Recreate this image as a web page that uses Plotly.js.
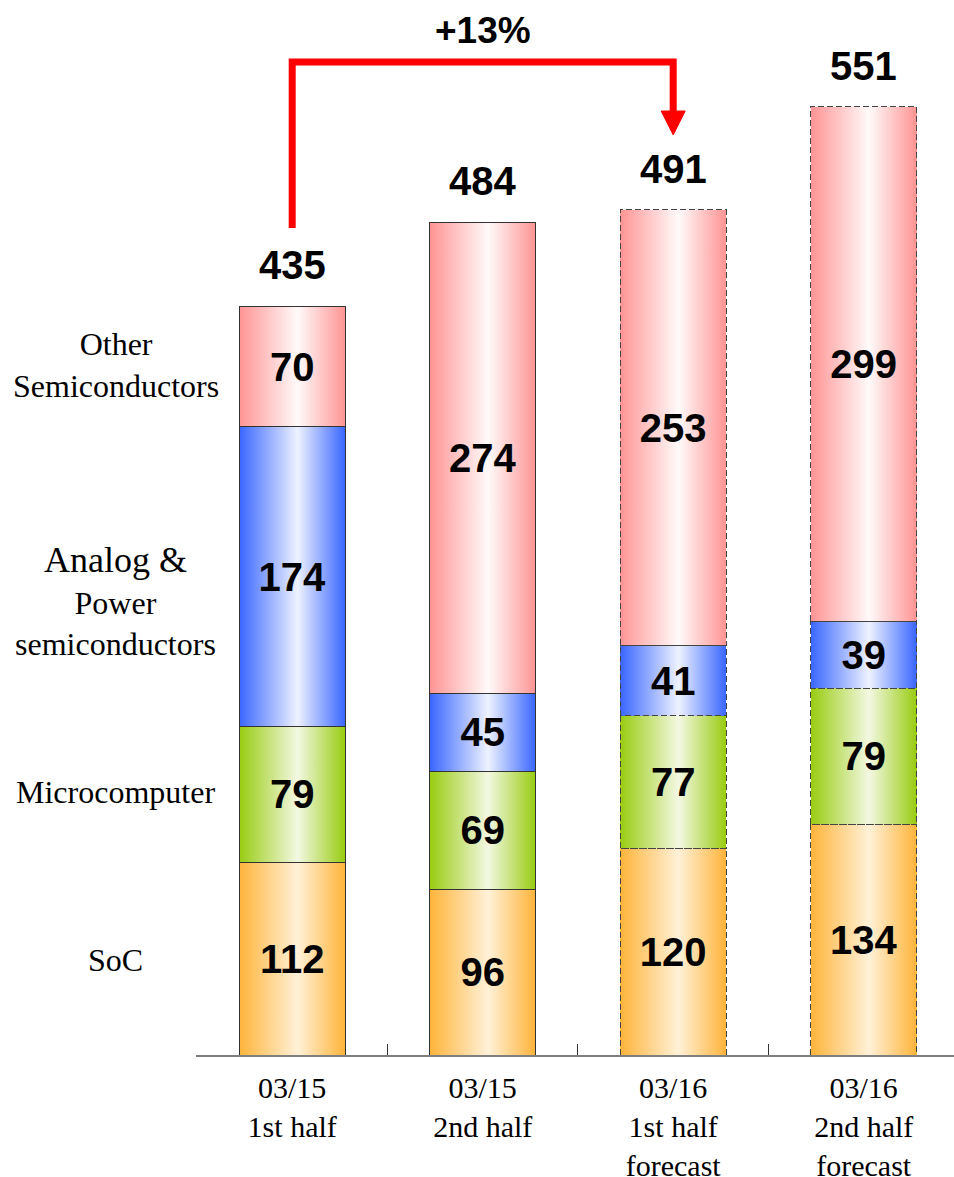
<!DOCTYPE html>
<html>
<head>
<meta charset="utf-8">
<script src="https://cdn.plot.ly/plotly-3.0.1.min.js"></script>
<style>
  html, body { margin: 0; padding: 0; background: #ffffff; }
  #chart { width: 954px; height: 1177px; }
</style>
</head>
<body>
<div id="chart"></div>
<script>
// Half-year periods on the x axis
const periods = ['03/15<br>1st half', '03/15<br>2nd half', '03/16<br>1st half<br>forecast', '03/16<br>2nd half<br>forecast'];
const isForecast = [false, false, true, true];

// Product segments, bottom to top
const segmentNames = ['SoC', 'Microcomputer', 'Analog &amp; Power semiconductors', 'Other Semiconductors'];
const soc = [112, 96, 120, 134];
const microcomputer = [79, 69, 77, 79];
const analogPower = [174, 45, 41, 39];
const otherSemis = [70, 274, 253, 299];

const growthText = '+13%';

const seriesValues = [soc, microcomputer, analogPower, otherSemis];
const totals = periods.map((_, i) => seriesValues.reduce((s, arr) => s + arr[i], 0));

// Edge colour / centre colour of each segment's horizontal gradient
const palette = [
  { edge: '#ffb43a', light: '#fff1d8' },
  { edge: '#99cc11', light: '#f3f8e2' },
  { edge: '#3a66ff', light: '#eef2ff' },
  { edge: '#ff9494', light: '#fffafa' }
];

const BAR_W = 0.556;

const traces = seriesValues.map((vals, k) => ({
  type: 'bar',
  name: segmentNames[k],
  x: periods,
  y: vals,
  width: BAR_W,
  marker: { color: palette[k].edge, line: { color: '#333333', width: 1 } },
  text: vals.map(String),
  textposition: 'inside',
  insidetextanchor: 'middle',
  constraintext: 'none',
  textangle: 0,
  textfont: { family: 'Liberation Sans, Arial, sans-serif', size: 40, color: '#000000', weight: 'bold' },
  hoverinfo: 'skip',
  showlegend: false
}));

// Growth bracket from the first period's total to the third period's total
const bracketTop = 577;
const bracketStart = totals[0] + 45.5;
const arrowBase = totals[2] + 57.5;
const arrowTip = totals[2] + 43.6;
const headHalf = 0.063;

const shapes = [
  {
    type: 'path', xref: 'x', yref: 'y',
    path: `M 0,${bracketStart} L 0,${bracketTop} L 2,${bracketTop} L 2,${arrowBase}`,
    line: { color: '#ff0000', width: 7 }
  },
  {
    type: 'path', xref: 'x', yref: 'y',
    path: `M ${2 - headHalf},${arrowBase} L ${2 + headHalf},${arrowBase} L 2,${arrowTip} Z`,
    fillcolor: '#ff0000',
    line: { color: '#ff0000', width: 1 }
  }
];

const boldFont = { family: 'Liberation Sans, Arial, sans-serif', size: 40, color: '#000000', weight: 'bold' };
const serifFont = { family: 'Liberation Serif, Times New Roman, serif', size: 32, color: '#000000' };

const annotations = [];
// Stack totals above each bar
periods.forEach((p, i) => {
  annotations.push({
    x: p, y: totals[i], xref: 'x', yref: 'y',
    text: String(totals[i]), showarrow: false,
    yanchor: 'middle', yshift: 41,
    font: boldFont
  });
});
// Growth label over the bracket
annotations.push({
  x: periods[1], y: bracketTop, xref: 'x', yref: 'y',
  text: growthText, showarrow: false, yanchor: 'middle', yshift: 31,
  font: Object.assign({}, boldFont, { size: 37 })
});
// Segment names at the left of the first bar
const labelX = -0.1057;
const labelY = [55, 153, 264, 401];
const labelText = [
  segmentNames[0],
  segmentNames[1],
  '<span style="font-size:36px">Analog &amp;</span><br>Power<br>semiconductors',
  'Other<br>Semiconductors'
];
labelText.forEach((t, k) => {
  annotations.push({
    x: labelX, y: labelY[k], xref: 'paper', yref: 'y',
    text: t, showarrow: false, xanchor: 'center', yanchor: 'middle', align: 'center',
    font: serifFont
  });
});

const layout = {
  width: 954, height: 1177,
  paper_bgcolor: '#ffffff', plot_bgcolor: '#ffffff',
  margin: { l: 196, r: 0, t: 0, b: 122, pad: 0 },
  barmode: 'stack',
  showlegend: false,
  xaxis: {
    type: 'category',
    range: [-0.505, 3.474],
    showline: true, linecolor: '#7f7f7f', linewidth: 1.5,
    ticks: 'inside', tickson: 'boundaries', ticklen: 11, tickwidth: 1, tickcolor: '#333333',
    ticklabelstandoff: 5,
    showgrid: false, zeroline: false,
    tickfont: { family: 'Liberation Serif, Times New Roman, serif', size: 30, color: '#000000' }
  },
  yaxis: {
    range: [0, 613],
    visible: false, showgrid: false, zeroline: false
  },
  shapes: shapes,
  annotations: annotations
};

Plotly.newPlot('chart', traces, layout, { staticPlot: true, displayModeBar: false }).then(gd => {
  const svgNS = 'http://www.w3.org/2000/svg';
  const svg = gd.querySelector('svg.main-svg');
  const defs = document.createElementNS(svgNS, 'defs');
  svg.insertBefore(defs, svg.firstChild);
  palette.forEach((c, k) => {
    const lg = document.createElementNS(svgNS, 'linearGradient');
    lg.setAttribute('id', 'segfill' + k);
    lg.setAttribute('x1', '0'); lg.setAttribute('y1', '0');
    lg.setAttribute('x2', '1'); lg.setAttribute('y2', '0');
    [[0, c.edge], [0.55, c.light], [1, c.edge]].forEach(([off, col]) => {
      const st = document.createElementNS(svgNS, 'stop');
      st.setAttribute('offset', off);
      st.setAttribute('stop-color', col);
      lg.appendChild(st);
    });
    defs.appendChild(lg);
  });
  gd.querySelectorAll('.barlayer .trace').forEach((tg, k) => {
    tg.querySelectorAll('.point').forEach((pt, i) => {
      const path = pt.querySelector('path');
      if (!path) return;
      path.style.fill = 'url(#segfill' + k + ')';
      if (isForecast[i]) {
        path.style.stroke = '#444444';
        path.style.strokeDasharray = '6,3';
      }
    });
  });
});
</script>
</body>
</html>
